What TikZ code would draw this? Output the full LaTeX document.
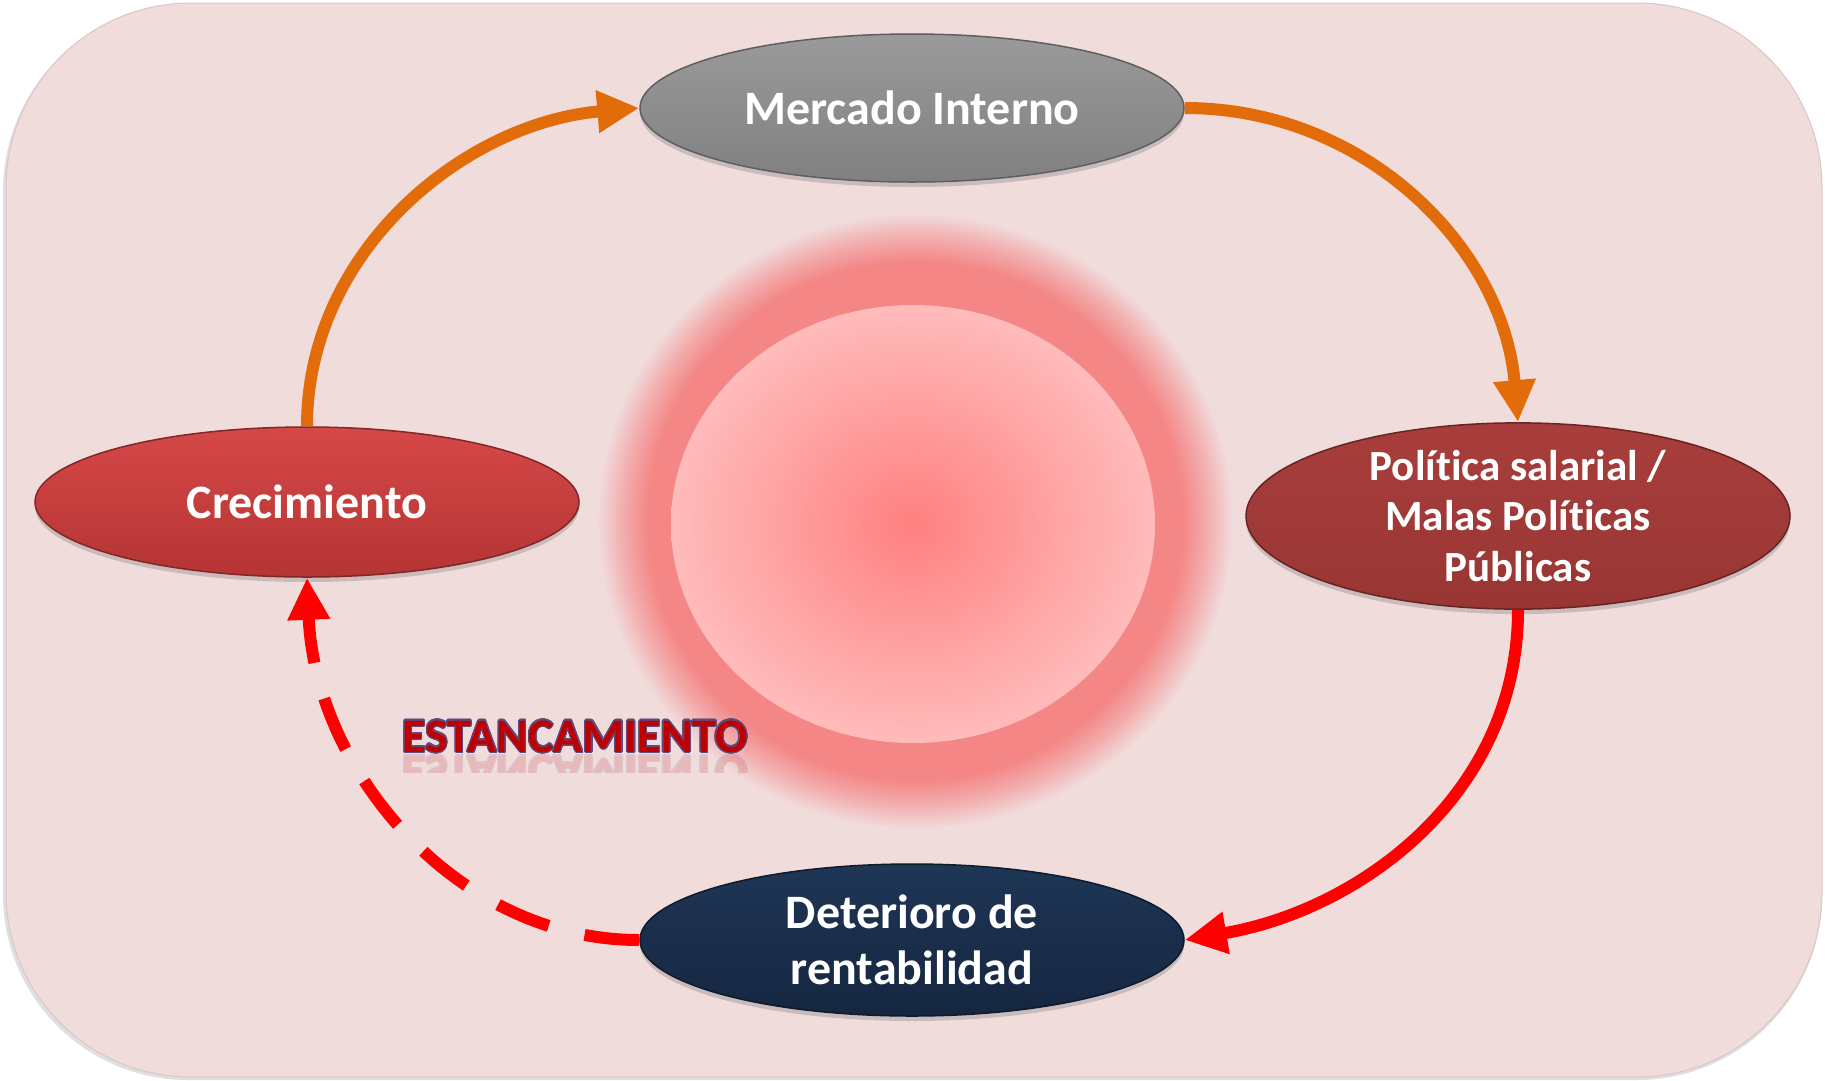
\documentclass[tikz,border=0pt]{standalone}
\usepackage{fontspec}
\setmainfont{Carlito}[Ligatures=CommonOff]
\usepackage[copies]{contour}
\usetikzlibrary{arrows.meta,shapes.geometric,shadows}

\definecolor{bgc}{HTML}{F1DCDC}
\definecolor{frame}{HTML}{D9C6C6}
\definecolor{orangeA}{HTML}{E36C0A}
\definecolor{redA}{HTML}{FF0000}
\definecolor{haloc}{HTML}{F48686}
\definecolor{halomid}{HTML}{F2ADAD}
\definecolor{corein}{HTML}{FF8080}
\definecolor{coreout}{HTML}{FFBBBB}
\definecolor{estfill}{HTML}{C00000}
\definecolor{estline}{HTML}{604A7B}
\definecolor{mercT}{HTML}{9A9A9A}
\definecolor{mercB}{HTML}{808080}
\definecolor{mercD}{HTML}{5E5E5E}
\definecolor{crecT}{HTML}{D64848}
\definecolor{crecB}{HTML}{B53434}
\definecolor{crecD}{HTML}{822626}
\definecolor{polT}{HTML}{A83E3C}
\definecolor{polB}{HTML}{983634}
\definecolor{polD}{HTML}{692422}
\definecolor{detT}{HTML}{1F3656}
\definecolor{detB}{HTML}{152640}
\definecolor{detD}{HTML}{0E1A2E}

% the path edge of a shaded ellipse sits at 25bp of the shading
\pgfdeclareradialshading{halo}{\pgfpoint{0bp}{0bp}}{color(0bp)=(haloc); color(21bp)=(haloc); color(23bp)=(halomid); color(25bp)=(bgc); color(50bp)=(bgc)}
\pgfdeclareradialshading{core}{\pgfpoint{0bp}{0bp}}{color(0bp)=(corein); color(25bp)=(coreout); color(50bp)=(coreout)}

\contournumber{24}
\contourlength{1.2pt}
\newcommand{\esttext}{\contour{estline}{\textcolor{estfill}{ESTANCAMIENTO}}}

\tikzset{
  bub/.style={ellipse, minimum width=544pt, minimum height=#1, inner sep=0pt,
    text=white, align=center, line width=1.5pt,
    font=\bfseries\fontsize{48}{56}\selectfont,
    drop shadow={opacity=0.35, shadow xshift=0pt, shadow yshift=-5pt}},
  conn/.style={line width=12pt, -{Triangle[length=42pt,width=40pt]}},
  orangeconn/.style={conn, draw=orangeA},
  redconn/.style={conn, draw=redA},
  estfont/.style={font=\bfseries\fontsize{48}{50}\selectfont},
}

\begin{document}
\begin{tikzpicture}[x=1pt,y=-1pt]
\useasboundingbox (0,0) rectangle (1825,1080);

% background panel
\fill[black!25, opacity=0.5, rounded corners=185pt] (3,6) rectangle (1822,1080);
\draw[fill=bgc, draw=frame, line width=1pt, rounded corners=185pt] (6,3) rectangle (1822,1077);

% central glow
\shade[shading=halo] (915,521) ellipse [x radius=318, y radius=308];
\shade[shading=core] (913,524) ellipse [x radius=242, y radius=219];

% nodes
\node[bub=148pt, top color=mercT, bottom color=mercB, draw=mercD] (merc) at (912,108) {Mercado Interno};
\node[bub=150pt, top color=crecT, bottom color=crecB, draw=crecD] (crec) at (307,502) {Crecimiento};
\node[bub=182pt, top color=polT, bottom color=polB, draw=polD, font=\bfseries\fontsize{43}{50.6}\selectfont] (pol) at (1518,516) {Política salarial /\\Malas Políticas\\Públicas};
\node[bub=152pt, top color=detT, bottom color=detB, draw=detD] (det) at (912,940) {Deterioro de\\rentabilidad};

% label with reflection
\node[anchor=base, estfont, inner sep=0pt] (est) at (575,752) {\esttext};
\begin{scope}
  \clip (380,754) rectangle (770,772);
  \begin{scope}[transparency group, opacity=0.16]
    \node[anchor=base, estfont, inner sep=0pt] (estr) at (575,756) {\scalebox{1}[-1]{\esttext}};
  \end{scope}
\end{scope}

% connectors
\draw[orangeconn] (crec.north) .. controls +(0,-175) and +(-175,15) .. (merc.west);
\draw[orangeconn] (merc.east) .. controls +(180,0) and +(-15,-175) .. (pol.north);
\draw[redconn] (pol.south) .. controls +(0,185) and +(175,-30) .. (det.east);
\draw[redconn, dash pattern=on 55pt off 37pt] (det.west) .. controls +(-185,0) and +(8,190) .. (crec.south);
\end{tikzpicture}
\end{document}
